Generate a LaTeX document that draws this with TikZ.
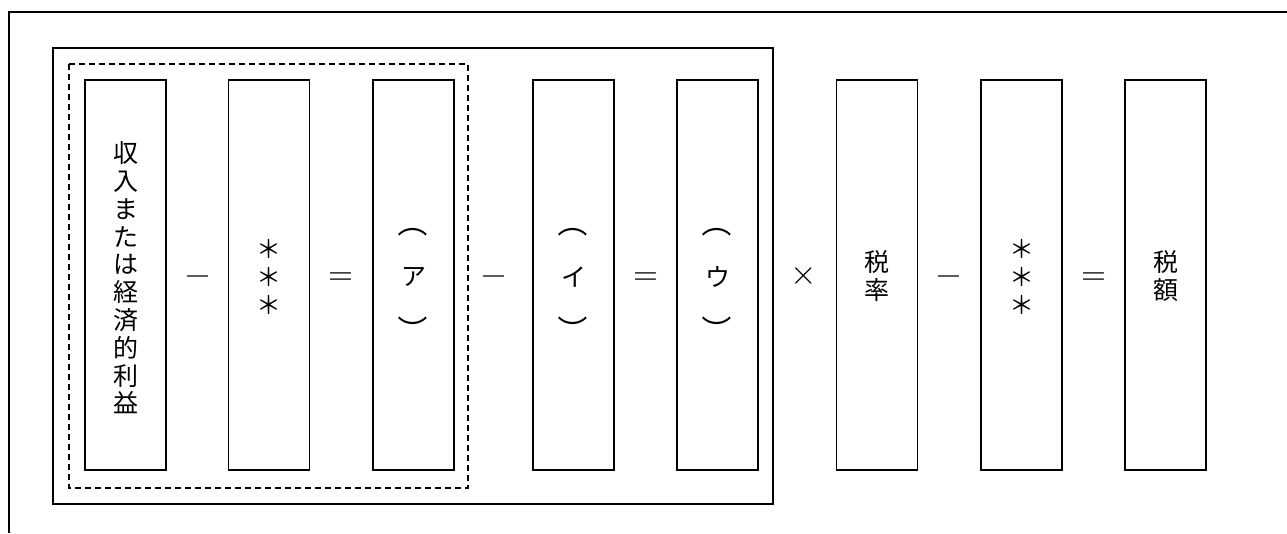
\documentclass[tikz,border=0pt]{standalone}
\usepackage{fontspec}
\newfontfamily\jp{Noto Sans CJK JP}
\newfontfamily\opfont{latinmodern-math.otf}
\begin{document}
\begin{tikzpicture}[x=1pt,y=-1pt,
  frame/.style={draw=black,line width=1.4pt},
  valbox/.style={draw=black,line width=1.3pt,minimum width=81pt,minimum height=390pt,inner sep=0pt},
  vtext/.style={font=\jp\fontsize{25}{27.8}\selectfont,align=center,inner sep=0pt},
  optext/.style={font=\opfont\fontsize{32}{32}\selectfont,inner sep=0pt,anchor=base},
  kana/.style={font=\jp\fontsize{25}{25}\selectfont,inner sep=0pt},
  par/.style={font=\jp\fontsize{30}{30}\selectfont,inner sep=0pt,rotate=-90}]
\useasboundingbox (0,0) rectangle (1287,533);
% outer frame (top and left sides)
\coordinate (otl) at (9,12);
\coordinate (otr) at (1287,12);
\coordinate (obl) at (9,533);
\draw[frame] (otr) -- (otl) -- (obl);
% inner solid frame and dashed frame
\draw[frame,line width=1.3pt] (53,48) rectangle (773,504);
\draw[line width=1.8pt,dash pattern=on 6pt off 4pt] (69,64) rectangle (468,488);
% boxes
\node[valbox] (b1) at (125.5,275) {};
\node[valbox] (b2) at (269,275) {};
\node[valbox] (b3) at (413.5,275) {};
\node[valbox] (b4) at (573.5,275) {};
\node[valbox] (b5) at (717.5,275) {};
\node[valbox] (b6) at (877,275) {};
\node[valbox] (b7) at (1021.5,275) {};
\node[valbox] (b8) at (1165.5,275) {};
% texts
\node[vtext] (t1) at (125.5,278) {収\\入\\ま\\た\\は\\経\\済\\的\\利\\益};
\node[vtext] (t2) at (269,277) {＊\\＊\\＊};
\node[par] (p3a) at (413,222) {（};
\node[kana] (t3) at (413.5,277) {ア};
\node[par] (p3b) at (413,330) {）};
\node[par] (p4a) at (573,222) {（};
\node[kana] (t4) at (573.5,277) {イ};
\node[par] (p4b) at (573,330) {）};
\node[par] (p5a) at (717,222) {（};
\node[kana] (t5) at (717.5,277) {ウ};
\node[par] (p5b) at (717,330) {）};
\node[vtext] (t6) at (877,276) {税\\率};
\node[vtext] (t7) at (1021.5,277) {＊\\＊\\＊};
\node[vtext] (t8) at (1165.5,276) {税\\額};
% operators (baseline placed so the math axis sits at y = 276)
\node[optext] (o1) at (197.5,284) {−};
\node[optext] (o2) at (341,284) {=};
\node[optext] (o3) at (493.5,284) {−};
\node[optext] (o4) at (645.5,284) {=};
\node[optext,font=\opfont\fontsize{34}{34}\selectfont] (o5) at (804,284.5) {×};
\node[optext] (o6) at (949,284) {−};
\node[optext] (o7) at (1093.5,284) {=};
\end{tikzpicture}
\end{document}
